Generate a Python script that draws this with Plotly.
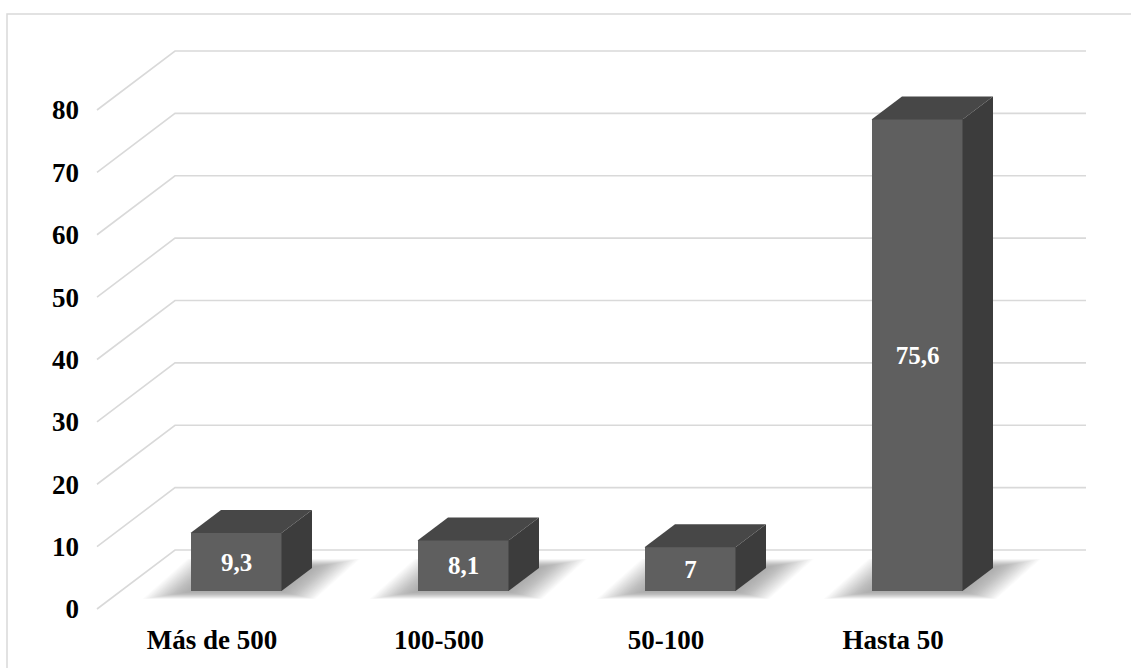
import plotly.graph_objects as go

# ---- data -------------------------------------------------------------
categories = ["Más de 500", "100-500", "50-100", "Hasta 50"]
values = [9.3, 8.1, 7, 75.6]
y_ticks = [0, 10, 20, 30, 40, 50, 60, 70, 80]

# ---- page / projection geometry (pixels) ------------------------------
W, H = 1131, 668
M_L, M_R, M_T, M_B = 80, 31, 30, 47
PX_X = 227.0          # pixels per category step
PX_Y = 499.0 / 80.0   # pixels per value unit
X0_PX, Y0_PX = 212.0, 609.0   # pixel position of category 0 / value 0 on the front plane

x_range = [(M_L - X0_PX) / PX_X, (W - M_R - X0_PX) / PX_X]
y_range = [(Y0_PX - (H - M_B)) / PX_Y, (Y0_PX - M_T) / PX_Y]

# oblique depth offsets, expressed in axis units
wall_dx, wall_dy = 78 / PX_X, 59 / PX_Y
wall_x_front = (97 - X0_PX) / PX_X
wall_x_end = (1086 - X0_PX) / PX_X
bar_off_x, bar_off_y = 24 / PX_X, 18 / PX_Y
bar_dx, bar_dy = 30.5 / PX_X, 23 / PX_Y
bar_w = 91 / PX_X

FRONT = "#5f5f5f"
TOP = "#474747"
SIDE = "#3c3c3c"
GRID = "#d9d9d9"
FONT = "Times New Roman, Liberation Serif, serif"

fig = go.Figure()
shapes = []

# walls: gridlines running along the side wall and the back wall
for v in y_ticks:
    x1 = wall_x_front + wall_dx
    y1 = v + wall_dy
    shapes.append(dict(
        type="path", xref="x", yref="y", layer="below",
        path=f"M {wall_x_front},{v} L {x1},{y1} L {wall_x_end},{y1}",
        line=dict(color=GRID, width=1.6),
    ))

# soft floor shadows: stacked translucent copies of each bar footprint
n_layers = 22
for i, v in enumerate(values):
    xl = i + bar_off_x - bar_w / 2
    xr = xl + bar_w
    b = bar_off_y
    for k in range(n_layers):
        t = (k / (n_layers - 1)) ** 0.8
        ex = (2 + 46 * t) / PX_X
        ey_front = (1 + 7 * t) / PX_Y
        ey_back = (1 + 8 * t) / PX_Y
        p = [
            (xl - ex, b - ey_front),
            (xr + ex * 0.7, b - ey_front),
            (xr + bar_dx + ex, b + bar_dy + ey_back),
            (xl + bar_dx - ex * 0.7, b + bar_dy + ey_back),
        ]
        path = "M " + " L ".join(f"{px},{py}" for px, py in p) + " Z"
        shapes.append(dict(
            type="path", xref="x", yref="y", layer="below", path=path,
            fillcolor="rgba(0,0,0,0.016)", line=dict(width=0),
        ))

# front faces of the bars
labels = [f"{v:g}".replace(".", ",") for v in values]
fig.add_trace(go.Bar(
    x=[i + bar_off_x for i in range(len(values))],
    y=values,
    base=bar_off_y,
    width=bar_w,
    marker=dict(color=FRONT, line=dict(width=0)),
    text=labels,
    textposition="inside",
    insidetextanchor="middle",
    textangle=0,
    textfont=dict(family=FONT, size=25, color="white", weight="bold"),
    hoverinfo="skip",
    showlegend=False,
))

# top and side faces
for i, v in enumerate(values):
    xl = i + bar_off_x - bar_w / 2
    xr = xl + bar_w
    b = bar_off_y
    top_x = [xl, xr, xr + bar_dx, xl + bar_dx, xl]
    top_y = [b + v, b + v, b + v + bar_dy, b + v + bar_dy, b + v]
    fig.add_trace(go.Scatter(
        x=top_x, y=top_y, mode="lines", fill="toself", fillcolor=TOP,
        line=dict(width=0, color=TOP), hoverinfo="skip", showlegend=False,
    ))
    side_x = [xr, xr, xr + bar_dx, xr + bar_dx, xr]
    side_y = [b, b + v, b + v + bar_dy, b + bar_dy, b]
    fig.add_trace(go.Scatter(
        x=side_x, y=side_y, mode="lines", fill="toself", fillcolor=SIDE,
        line=dict(width=0, color=SIDE), hoverinfo="skip", showlegend=False,
    ))

# outer chart border
pw = W - M_L - M_R
ph = H - M_T - M_B
shapes.append(dict(
    type="rect", xref="paper", yref="paper", layer="below",
    x0=(7 - M_L) / pw, x1=(W + 10 - M_L) / pw,
    y0=(H - M_B - (H + 10)) / ph, y1=(H - M_B - 14) / ph,
    line=dict(color=GRID, width=1.5), fillcolor="rgba(0,0,0,0)",
))

fig.update_layout(
    width=W, height=H,
    margin=dict(l=M_L, r=M_R, t=M_T, b=M_B, pad=0),
    paper_bgcolor="white", plot_bgcolor="white",
    shapes=shapes,
    bargap=0,
    xaxis=dict(
        range=x_range, showgrid=False, zeroline=False, showline=False,
        tickmode="array", tickvals=list(range(len(categories))), ticktext=categories,
        tickfont=dict(family=FONT, size=27, color="black", weight="bold"),
        ticks="", fixedrange=True,
    ),
    yaxis=dict(
        range=y_range, showgrid=False, zeroline=False, showline=False,
        tickmode="array", tickvals=y_ticks, ticktext=[str(t) for t in y_ticks],
        tickfont=dict(family=FONT, size=27, color="black", weight="bold"),
        ticks="", fixedrange=True,
    ),
)

fig.write_html("out.html")
